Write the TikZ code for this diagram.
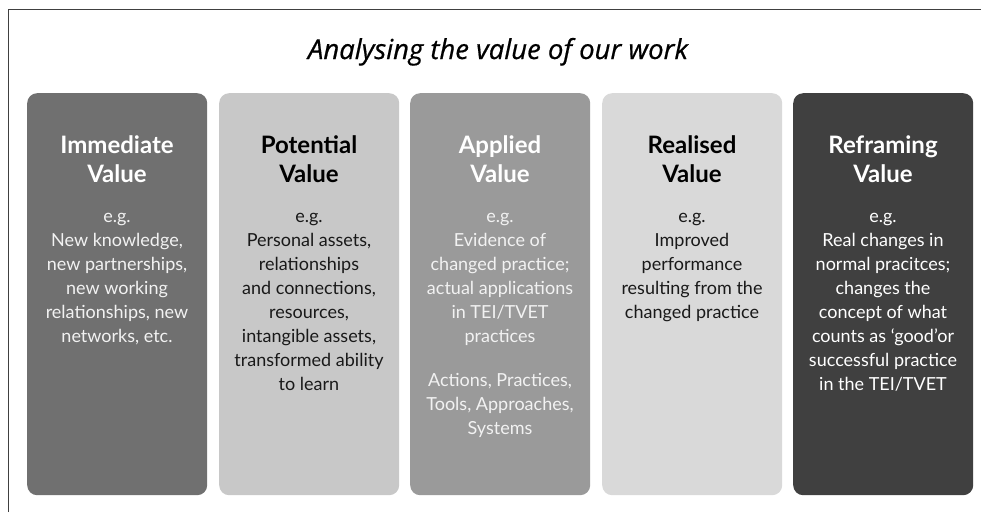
\documentclass[tikz,border=0pt]{standalone}
\usepackage{fontspec}
\setmainfont{Lato}
\newfontfamily\headfont[ItalicFeatures={FakeBold=0.6}]{Open Sans}
\definecolor{framecol}{HTML}{404040}
\definecolor{cA}{HTML}{707070}
\definecolor{cB}{HTML}{C8C8C8}
\definecolor{cC}{HTML}{9A9A9A}
\definecolor{cD}{HTML}{D9D9D9}
\definecolor{cE}{HTML}{404040}
\definecolor{lighttext}{HTML}{F2F2F2}
\begin{document}
\begin{tikzpicture}[x=1pt,y=-1pt,
  colbox/.style={draw=none, rounded corners=10pt, minimum width=180pt, minimum height=402pt, inner sep=0pt, anchor=north west},
  coltitle/.style={align=center, inner sep=0pt, anchor=base, font=\fontsize{24}{29}\selectfont\bfseries},
  colbody/.style={align=center, inner sep=0pt, anchor=base, font=\fontsize{18}{24}\selectfont},
  maintitle/.style={inner sep=0pt, anchor=base, font=\headfont\fontsize{27.5}{32}\selectfont\itshape}
]
\useasboundingbox (0,0) rectangle (981,512);
\fill[white] (0,0) rectangle (981,512);
\draw[framecol, line width=1.3pt] (8.5,512) -- (8.5,9.5) -- (981,9.5);
\node[maintitle] (title) at (498,59) {Analysing the value of our work};

\node[colbox, fill=cA] (b1) at (27,93) {};
\node[colbox, fill=cB] (b2) at (219,93) {};
\node[colbox, fill=cC] (b3) at (410,93) {};
\node[colbox, fill=cD] (b4) at (602,93) {};
\node[colbox, fill=cE] (b5) at (793,93) {};

% anchor=base is the baseline of the LAST line
\node[coltitle, text=white] (t1) at (117,182) {Immediate\\Value};
\node[coltitle, text=black] (t2) at (309,182) {Potential\\Value};
\node[coltitle, text=white] (t3) at (500,182) {Applied\\Value};
\node[coltitle, text=black] (t4) at (692,182) {Realised\\Value};
\node[coltitle, text=white] (t5) at (883,182) {Reframing\\Value};

\node[colbody, text=lighttext] (d1) at (117,342) {e.g.\\New knowledge,\\new partnerships,\\new working\\relationships, new\\networks, etc.};
\node[colbody, text=black!90] (d2) at (309,390) {e.g.\\Personal assets,\\relationships\\and connections,\\resources,\\intangible assets,\\transformed ability\\to learn};
\node[colbody, text=lighttext] (d3) at (500,434) {e.g.\\Evidence of\\changed practice;\\actual applications\\in TEI/TVET\\practices\\[20pt]Actions, Practices,\\Tools, Approaches,\\Systems};
\node[colbody, text=black!90] (d4) at (692,318) {e.g.\\Improved\\performance\\resulting from the\\changed practice};
\node[colbody, text=white] (d5) at (883,390) {e.g.\\Real changes in\\normal pracitces;\\changes the\\concept of what\\counts as ‘good’or\\successful practice\\in the TEI/TVET};
\end{tikzpicture}
\end{document}
